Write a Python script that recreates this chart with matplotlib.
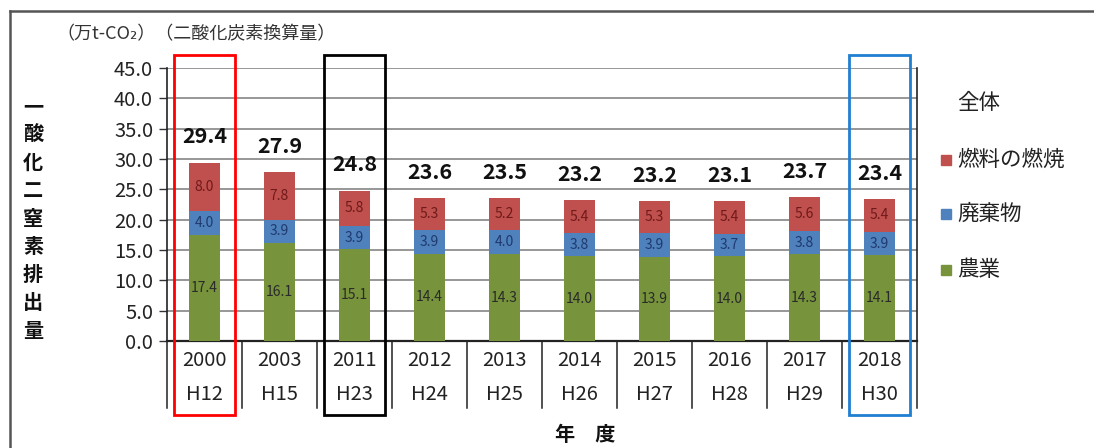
import matplotlib
matplotlib.use("Agg")
import matplotlib.pyplot as plt
from matplotlib.patches import Rectangle
from matplotlib.lines import Line2D

plt.rcParams['font.family'] = ['Noto Sans CJK JP', 'DejaVu Sans']

years = ['2000', '2003', '2011', '2012', '2013', '2014', '2015', '2016', '2017', '2018']
eras = ['H12', 'H15', 'H23', 'H24', 'H25', 'H26', 'H27', 'H28', 'H29', 'H30']
agri = [17.4, 16.1, 15.1, 14.4, 14.3, 14.0, 13.9, 14.0, 14.3, 14.1]
waste = [4.0, 3.9, 3.9, 3.9, 4.0, 3.8, 3.9, 3.7, 3.8, 3.9]
fuel = [8.0, 7.8, 5.8, 5.3, 5.2, 5.4, 5.3, 5.4, 5.6, 5.4]
total = [29.4, 27.9, 24.8, 23.6, 23.5, 23.2, 23.2, 23.1, 23.7, 23.4]
series_names = ['燃料の燃焼', '廃棄物', '農業']
yticks = [0, 5, 10, 15, 20, 25, 30, 35, 40, 45]
highlight = {0: '#FF0000', 2: '#000000', 9: '#1F7FD0'}

c_fuel, c_waste, c_agri = '#C0504D', '#4F81BD', '#77933C'
W, H = 1094, 448

fig = plt.figure(figsize=(W / 100, H / 100), dpi=100)
ax = fig.add_axes([167 / W, 1 - 341 / H, 750 / W, 273 / H])
ax.set_xlim(-0.5, len(years) - 0.5)
ax.set_ylim(0, 45)

x = list(range(len(years)))
bw = 0.41
ax.bar(x, agri, width=bw, color=c_agri, zorder=3)
ax.bar(x, waste, width=bw, bottom=agri, color=c_waste, zorder=3)
b2 = [a + w for a, w in zip(agri, waste)]
ax.bar(x, fuel, width=bw, bottom=b2, color=c_fuel, zorder=3)

for i in x:
    ax.text(i, agri[i] / 2, f'{agri[i]:.1f}', ha='center', va='center', fontsize=10, color='#2a2a2a', zorder=4)
    ax.text(i, agri[i] + waste[i] / 2, f'{waste[i]:.1f}', ha='center', va='center', fontsize=10, color='#1f3a6e', zorder=4)
    ax.text(i, b2[i] + fuel[i] / 2, f'{fuel[i]:.1f}', ha='center', va='center', fontsize=10, color='#6e1a1a', zorder=4)
    top = b2[i] + fuel[i]
    ax.annotate(f'{total[i]:.1f}', (i, top), xytext=(0, 18.5), textcoords='offset points',
                ha='center', va='center', fontsize=15.5, fontweight='bold', color='#111', zorder=4)

# grid and axes
ax.set_yticks(yticks)
ax.set_yticklabels([f'{v:.1f}' for v in yticks], fontsize=14.5, color='#222')
ax.yaxis.grid(True, color='#8f8f8f', lw=1.3, zorder=0)
ax.set_axisbelow(True)
ax.tick_params(axis='y', length=6, width=1, color='#333', pad=4)
ax.tick_params(axis='x', length=0, labelbottom=False)
ax.spines['top'].set_visible(False)
for s in ['left', 'right', 'bottom']:
    ax.spines[s].set_color('#222')
ax.spines['bottom'].set_linewidth(1.6)
ax.spines['left'].set_linewidth(1.2)
ax.spines['right'].set_linewidth(1.2)

xt = ax.get_xaxis_transform()
for i in x:
    ax.text(i, -19 / 273, years[i], transform=xt, ha='center', va='center', fontsize=14.5, color='#222')
    ax.text(i, -53 / 273, eras[i], transform=xt, ha='center', va='center', fontsize=14.5, color='#222')
for i in range(len(years) + 1):
    ax.add_line(Line2D([i - 0.5, i - 0.5], [0, -67 / 273], transform=xt, color='#222', lw=1.1, clip_on=False))

for i, col in highlight.items():
    ax.add_patch(Rectangle((i - 0.41, -74 / 273), 0.82, (74 + 286) / 273, transform=xt,
                           fill=False, edgecolor=col, lw=2.0, clip_on=False, zorder=5))

# y label (vertical characters)
ylab = '一酸化二窒素排出量'
for k, ch in enumerate(ylab):
    fig.text(33 / W, 1 - (107 + k * 27.9) / H, ch, ha='center', va='center', fontsize=14.5,
             fontweight='bold', color='#111')

fig.text(56 / W, 1 - 34 / H, '（万t-CO₂）（二酸化炭素換算量）', ha='left', va='center', fontsize=13, color='#333')
fig.text(585 / W, 1 - 434 / H, '年　度', ha='center', va='center', fontsize=14.5, fontweight='bold', color='#111')

# legend
fig.text(957 / W, 1 - 103 / H, '全体', ha='left', va='center', fontsize=15.5, color='#222')
leg_cols = [c_fuel, c_waste, c_agri]
leg_y = [160, 214, 270]
for name, col, yy in zip(series_names, leg_cols, leg_y):
    fig.patches.append(Rectangle((941 / W, 1 - (yy + 5) / H), 10 / W, 10 / H, transform=fig.transFigure,
                                 color=col, figure=fig))
    fig.text(957 / W, 1 - yy / H, name, ha='left', va='center', fontsize=15.5, color='#222')

# outer frame
fig.add_artist(Line2D([10 / W, 1], [1 - 11 / H, 1 - 11 / H], transform=fig.transFigure, color='#555', lw=1.8))
fig.add_artist(Line2D([10 / W, 10 / W], [0, 1 - 11 / H], transform=fig.transFigure, color='#555', lw=1.8))

fig.savefig('out.png', dpi=100, facecolor='white')
